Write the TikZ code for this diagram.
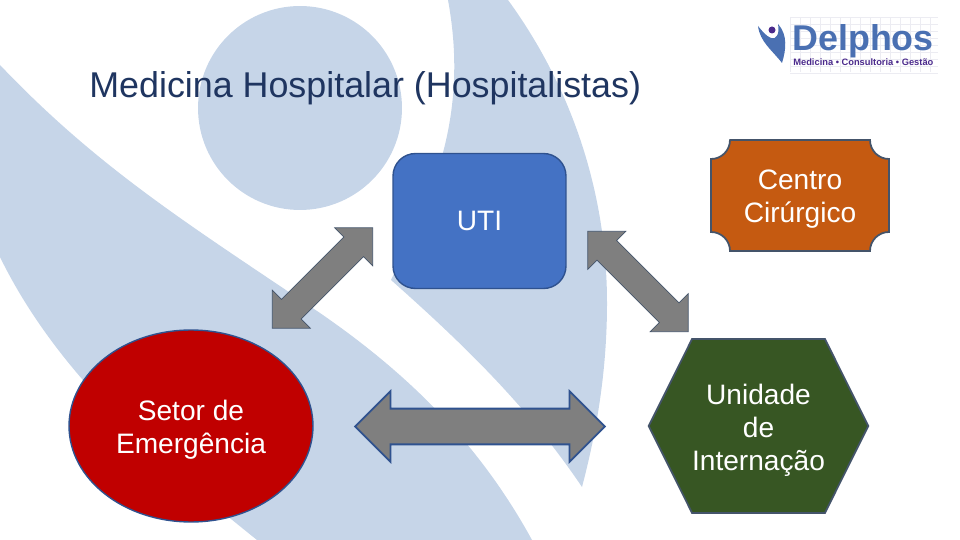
\documentclass[tikz,border=0pt]{standalone}
\usepackage{fontspec}
\setmainfont{Liberation Sans}
\usetikzlibrary{arrows.meta, positioning, shapes.geometric, shapes.arrows, shapes.symbols}
\definecolor{bgblue}{HTML}{C6D5E8}
\definecolor{titleblue}{HTML}{1F3560}
\definecolor{edgeblue}{HTML}{2F528F}
\definecolor{slateedge}{HTML}{44546A}
\definecolor{logoblue}{HTML}{4A70B2}
\definecolor{logopurple}{HTML}{4B2A8C}
\definecolor{gridgray}{HTML}{ECECF2}
\definecolor{utifill}{HTML}{4472C4}
\definecolor{surgfill}{HTML}{C55A11}
\definecolor{erfill}{HTML}{C00000}
\definecolor{wardfill}{HTML}{375623}
\definecolor{arrowgray}{HTML}{7F7F7F}
\newcommand{\topgap}{\rule{0pt}{16pt}}

\begin{document}
\begin{tikzpicture}[
      x=0.02cm, y=-0.02cm,
      boxtext/.style={
        text=white, align=center, inner sep=0pt,
        font=\fontsize{16}{18.8}\selectfont
      },
      utibox/.style={
        boxtext, rectangle, draw=edgeblue, fill=utifill, line width=0.8pt,
        rounded corners=0.45cm, minimum width=3.46cm, minimum height=2.7cm
      },
      erbox/.style={
        boxtext, ellipse, draw=edgeblue, fill=erfill, line width=0.8pt,
        minimum width=4.88cm, minimum height=3.84cm
      },
      wardbox/.style={
        boxtext, signal, signal to=east and west, signal pointer angle=127,
        draw=slateedge, fill=wardfill, line width=1pt,
        minimum width=4.38cm, minimum height=3.48cm
      },
      blockarrow/.style={
        double arrow, fill=arrowgray, inner xsep=0pt,
        double arrow tip angle=90
      },
      diagarrow/.style={
        blockarrow, draw=slateedge, line width=0.4pt, inner ysep=0.27cm,
        minimum height=2.84cm, double arrow head extend=0.26cm
      }
    ]
    \useasboundingbox (0,0) rectangle (960,540);

    % background
    \fill[bgblue] (300,108) circle [radius=2.04cm];
    \fill[bgblue] (0,65) .. controls (100,170) and (190,225) .. (320,313)
      .. controls (410,375) and (480,445) .. (532,540) -- (257,540)
      .. controls (170,470) and (60,380) .. (0,257) -- cycle;
    \fill[bgblue] (508,0) .. controls (570,85) and (607,190) .. (607,303)
      .. controls (607,370) and (597,430) .. (582,487)
      .. controls (530,410) and (470,350) .. (391,280)
      .. controls (430,200) and (470,120) .. (448,0) -- cycle;

    % logo
    \foreach \y in {17,24,...,73}
      \draw[gridgray, line width=0.3pt] (790,\y) -- (938,\y);
    \foreach \x in {790,800,...,938}
      \draw[gridgray, line width=0.3pt] (\x,17) -- (\x,72);
    \fill[logoblue] (758,26) .. controls (760,42) and (772,50) .. (782,63)
      .. controls (786,50) and (788,35) .. (778,24)
      .. controls (780,34) and (776,40) .. (771,38)
      .. controls (766,36) and (762,31) .. (758,26) -- cycle;
    \fill[logopurple] (772,30) circle [radius=0.07cm];
    \node[anchor=base west, inner sep=0pt, text=logoblue, font=\fontsize{20.4}{22}\selectfont\bfseries] (delphos) at (792,50.5) {Delphos};
    \node[anchor=base west, inner sep=0pt, text=logopurple, font=\fontsize{5.3}{6}\selectfont\bfseries] (slogan) at (793,66) {Medicina • Consultoria • Gestão};

    \node[anchor=base west, inner sep=0pt, text=titleblue, font=\fontsize{20.4}{25}\selectfont] (title) at (89,97.5) {Medicina Hospitalar (Hospitalistas)};

    % units
    \node[utibox] (uti) at (479.5,221) {UTI};
    \node[erbox] (er) at (191,426) {\topgap Setor de\\Emergência};
    \node[wardbox] (ward) at (758.5,426) {\topgap Unidade\\de\\Internação};
    \draw[slateedge, fill=surgfill, line width=1pt]
      (730,140) -- (870,140) arc [start angle=180, end angle=270, radius=0.38cm]
      -- (889,232) arc [start angle=90, end angle=180, radius=0.38cm]
      -- (730,251) arc [start angle=0, end angle=90, radius=0.38cm]
      -- (711,159) arc [start angle=-90, end angle=0, radius=0.38cm] -- cycle;
    \node[boxtext] (surg) at (800,199.5) {Centro\\Cirúrgico};

    % arrows
    \node[diagarrow, rotate=45] (er-uti) at (322.5,278) {};
    \node[diagarrow, rotate=-45] (uti-ward) at (638,281.5) {};
    \node[blockarrow, draw=edgeblue, line width=1pt, inner ysep=0.34cm, minimum height=5cm,
      double arrow head extend=0.35cm] (er-ward) at (480,426.5) {};
  \end{tikzpicture}
\end{document}
